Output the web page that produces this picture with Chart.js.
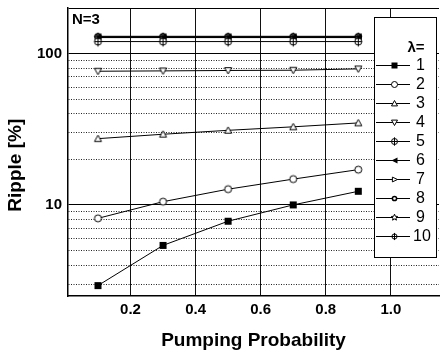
<!DOCTYPE html>
<html>
<head>
<meta charset="utf-8">
<script src="https://cdn.jsdelivr.net/npm/chart.js@4/dist/chart.umd.min.js"></script>
<style>
  body { margin: 0; background: #fff; }
  #c { display: block; }
</style>
</head>
<body>
<canvas id="c" width="444" height="354"></canvas>
<script>
// data
const pumpProb = [0.1, 0.3, 0.5, 0.7, 0.9];
const lambdas = ['1', '2', '3', '4', '5', '6', '7', '8', '9', '10'];
const ripple1 = [2.93, 5.4, 7.8, 10.0, 12.3];
const ripple2 = [8.15, 10.5, 12.7, 14.8, 17.1];
const ripple3 = [27.4, 29.3, 31.1, 32.8, 34.8];
const ripple4 = [76.4, 76.8, 77.3, 77.6, 79.2];
const ripple5 = [120, 120, 120, 120, 120];
const ripple6 = [129, 129, 129, 129, 129];
const ripple7 = [128, 128, 128, 128, 128];
const ripple8 = [130, 130, 130, 130, 130];
const ripple9 = [127.5, 127.5, 127.5, 127.5, 127.5];
const ripple10 = [128.5, 128.5, 128.5, 128.5, 128.5];
const allRipple = [ripple1, ripple2, ripple3, ripple4, ripple5, ripple6, ripple7, ripple8, ripple9, ripple10];
const markerKinds = ['square', 'circle', 'triUp', 'triDown', 'circPlus', 'triLeft', 'triRight', 'circSmall', 'star', 'circPlusSmall'];

const xTicks = [0.2, 0.4, 0.6, 0.8, 1.0];
const yGrid = [3, 4, 5, 6, 7, 8, 9, 10, 20, 30, 40, 50, 60, 70, 80, 90, 100, 200];
const yLabels = { 10: '10', 100: '100' };

function drawMarker(ctx, kind, x, y, r) {
  ctx.save();
  ctx.lineWidth = 1;
  ctx.strokeStyle = '#000';
  ctx.fillStyle = '#fff';
  ctx.beginPath();
  if (kind === 'square') {
    ctx.fillStyle = '#000';
    ctx.fillRect(x - r, y - r, 2 * r, 2 * r);
  } else if (kind === 'circle') {
    ctx.arc(x, y, r, 0, Math.PI * 2);
    ctx.fill(); ctx.stroke();
  } else if (kind === 'triUp') {
    ctx.moveTo(x, y - r); ctx.lineTo(x + r, y + r * 0.8); ctx.lineTo(x - r, y + r * 0.8); ctx.closePath();
    ctx.fill(); ctx.stroke();
  } else if (kind === 'triDown') {
    ctx.moveTo(x, y + r); ctx.lineTo(x + r, y - r * 0.8); ctx.lineTo(x - r, y - r * 0.8); ctx.closePath();
    ctx.fill(); ctx.stroke();
  } else if (kind === 'circPlus' || kind === 'circPlusSmall') {
    const rr = kind === 'circPlus' ? r : r * 0.85;
    ctx.arc(x, y, rr, 0, Math.PI * 2);
    ctx.fill(); ctx.stroke();
    ctx.beginPath();
    ctx.moveTo(x - rr, y); ctx.lineTo(x + rr, y);
    ctx.moveTo(x, y - rr * 1.4); ctx.lineTo(x, y + rr * 1.4);
    ctx.stroke();
  } else if (kind === 'triLeft') {
    ctx.fillStyle = '#000';
    ctx.moveTo(x - r, y); ctx.lineTo(x + r, y - r); ctx.lineTo(x + r, y + r); ctx.closePath();
    ctx.fill();
  } else if (kind === 'triRight') {
    ctx.moveTo(x + r, y); ctx.lineTo(x - r * 0.7, y - r * 0.8); ctx.lineTo(x - r * 0.7, y + r * 0.8); ctx.closePath();
    ctx.fill(); ctx.stroke();
  } else if (kind === 'circSmall') {
    ctx.lineWidth = 1.5;
    ctx.arc(x, y, r * 0.7, 0, Math.PI * 2);
    ctx.fill(); ctx.stroke();
  } else if (kind === 'star') {
    for (let i = 0; i < 10; i++) {
      const a = -Math.PI / 2 + i * Math.PI / 5;
      const rad = i % 2 === 0 ? r * 1.1 : r * 0.5;
      const px = x + rad * Math.cos(a), py = y + rad * Math.sin(a);
      if (i === 0) ctx.moveTo(px, py); else ctx.lineTo(px, py);
    }
    ctx.closePath();
    ctx.fill(); ctx.stroke();
  }
  ctx.restore();
}

function markerCanvas(kind, r) {
  const s = Math.ceil(r * 2 + 6);
  const cv = document.createElement('canvas');
  cv.width = s; cv.height = s;
  drawMarker(cv.getContext('2d'), kind, s / 2, s / 2, r);
  return cv;
}

const datasets = allRipple.map((vals, i) => ({
  label: lambdas[i],
  data: vals.map((v, j) => ({ x: pumpProb[j], y: v })),
  borderColor: '#000',
  borderWidth: 1,
  pointStyle: markerCanvas(markerKinds[i], 3.5),
  pointRadius: 4,
  fill: false,
  tension: 0
}));

const overlay = {
  id: 'overlay',
  afterDraw(chart) {
    const ctx = chart.ctx;
    ctx.save();
    // N=3 label
    ctx.fillStyle = '#000';
    ctx.font = 'bold 15px "Liberation Sans", Arial, sans-serif';
    ctx.textBaseline = 'middle';
    ctx.textAlign = 'left';
    ctx.fillText('N=3', 72, 20);
    // legend box
    const bx = 374, by = 17, bw = 62, bh = 240;
    ctx.fillStyle = '#fff';
    ctx.fillRect(bx, by, bw, bh);
    ctx.strokeStyle = '#000';
    ctx.lineWidth = 1;
    ctx.strokeRect(bx + 0.5, by + 0.5, bw, bh);
    ctx.fillStyle = '#000';
    ctx.textAlign = 'center';
    ctx.fillText('\u03bb=', 416, 48);
    ctx.font = '16px "Liberation Sans", Arial, sans-serif';
    ctx.textAlign = 'left';
    chart.data.datasets.forEach((ds, i) => {
      const y = Math.round(64.5 + i * 19);
      ctx.beginPath();
      ctx.moveTo(376, y + 0.5); ctx.lineTo(410, y + 0.5);
      ctx.strokeStyle = '#000';
      ctx.lineWidth = 1;
      ctx.stroke();
      drawMarker(ctx, markerKinds[i], 394.5, y + 0.5, 3);
      ctx.fillStyle = '#000';
      ctx.fillText(ds.label, ds.label.length > 1 ? 413 : 416, y + 1);
    });
    ctx.restore();
  }
};

new Chart(document.getElementById('c'), {
  type: 'line',
  data: { datasets },
  plugins: [overlay],
  options: {
    responsive: false,
    animation: false,
    layout: { padding: { top: 8, right: 0, left: 0, bottom: 0 } },
    plugins: { legend: { display: false }, tooltip: { enabled: false } },
    scales: {
      x: {
        type: 'linear',
        min: 0.008,
        max: 1.148,
        afterBuildTicks: (s) => { s.ticks = xTicks.map(v => ({ value: v })); },
        afterFit: (s) => { s.height = 58; },
        ticks: {
          callback: (v) => v.toFixed(1),
          color: '#000',
          font: { family: '"Liberation Sans", Arial', size: 15, weight: 'bold' },
          padding: 5,
          maxRotation: 0,
          autoSkip: false
        },
        grid: { color: '#111', lineWidth: 1, drawTicks: false },
        border: { color: '#000', width: 1.5 },
        title: {
          display: true,
          text: 'Pumping Probability',
          color: '#000',
          font: { family: '"Liberation Sans", Arial', size: 19, weight: 'bold' },
          padding: { top: 0, bottom: 2 }
        }
      },
      y: {
        type: 'logarithmic',
        min: 2.5,
        max: 200,
        afterBuildTicks: (s) => { s.ticks = yGrid.map(v => ({ value: v })); },
        afterFit: (s) => { s.width = 68; },
        ticks: {
          callback: (v) => yLabels[v] || '',
          color: '#000',
          font: { family: '"Liberation Sans", Arial', size: 15, weight: 'bold', lineHeight: 0.1 },
          padding: 6,
          autoSkip: false
        },
        grid: {
          drawTicks: false,
          lineWidth: 1,
          color: (c) => (c.tick && (c.tick.value === 10 || c.tick.value === 100 || c.tick.value === 200)) ? '#000' : '#222'
        },
        border: {
          color: '#000',
          width: 1.5,
          dash: (c) => (c.tick && !(c.tick.value === 10 || c.tick.value === 100 || c.tick.value === 200)) ? [1, 1.5] : []
        },
        title: {
          display: true,
          text: 'Ripple [%]     ',
          color: '#000',
          font: { family: '"Liberation Sans", Arial', size: 19, weight: 'bold' },
          padding: { top: 4, bottom: 0 }
        }
      }
    }
  }
});
</script>
</body>
</html>
